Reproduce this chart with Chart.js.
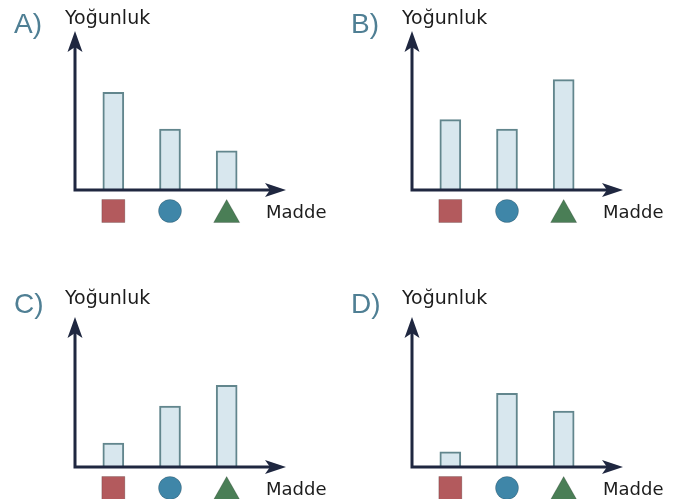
<!DOCTYPE html>
<html>
<head>
<meta charset="utf-8">
<script src="https://cdn.jsdelivr.net/npm/chart.js@4"></script>
<style>
  html, body { margin: 0; padding: 0; background: #fff; overflow: hidden; }
  body { width: 684px; height: 499px; position: relative; }
  canvas { position: absolute; }
</style>
</head>
<body>
<canvas id="panelA" width="342" height="240" style="left:0px;top:0px"></canvas>
<canvas id="panelB" width="342" height="240" style="left:337px;top:0px"></canvas>
<canvas id="panelC" width="342" height="222" style="left:0px;top:277px"></canvas>
<canvas id="panelD" width="342" height="222" style="left:337px;top:277px"></canvas>
<script>
// categories are the three substances, shown as shapes under the x axis
const categories = ['kare', 'daire', 'üçgen'];
const markerShapes = ['rect', 'circle', 'triangle'];
const markerColors = ['#b35a5d', '#3f86a8', '#4a7e56'];

const panelLetters = ['A)', 'B)', 'C)', 'D)'];
const valuesA = [6.1, 3.8, 2.45];
const valuesB = [4.4, 3.8, 6.9];
const valuesC = [1.5, 3.8, 5.1];
const valuesD = [0.95, 4.6, 3.5];

const yTitle = 'Yoğunluk';
const xTitle = 'Madde';

const navy = '#1f2740';

const axisArrows = {
    id: 'axisArrows',
    afterDatasetsDraw(chart, args, opts) {
        const ctx = chart.ctx;
        const a = chart.chartArea;
        const x = chart.scales.x;
        const ox = a.left - 10, oy = a.bottom;
        const tipY = opts.tipY, tipX = a.right + 31;

        ctx.save();
        ctx.strokeStyle = navy;
        ctx.fillStyle = navy;
        ctx.lineWidth = 3;
        ctx.beginPath();
        ctx.moveTo(ox, tipY + 12);
        ctx.lineTo(ox, oy);
        ctx.lineTo(tipX - 12, oy);
        ctx.stroke();

        // arrow heads
        ctx.beginPath();
        ctx.moveTo(ox, tipY);
        ctx.lineTo(ox + 7.5, tipY + 21);
        ctx.lineTo(ox, tipY + 16);
        ctx.lineTo(ox - 7.5, tipY + 21);
        ctx.closePath();
        ctx.fill();

        ctx.beginPath();
        ctx.moveTo(tipX, oy);
        ctx.lineTo(tipX - 21, oy - 7);
        ctx.lineTo(tipX - 16, oy);
        ctx.lineTo(tipX - 21, oy + 7);
        ctx.closePath();
        ctx.fill();

        // substance shapes under each bar
        categories.forEach((c, i) => {
            const px = x.getPixelForValue(i);
            const py = oy + 21;
            ctx.fillStyle = markerColors[i];
            ctx.strokeStyle = 'rgba(0,0,0,0.18)';
            ctx.lineWidth = 1;
            ctx.beginPath();
            if (markerShapes[i] === 'rect') {
                ctx.rect(px - 11.5, py - 11.5, 23, 23);
            } else if (markerShapes[i] === 'circle') {
                ctx.arc(px, py, 11.5, 0, Math.PI * 2);
            } else {
                ctx.moveTo(px, py - 11.5);
                ctx.lineTo(px + 13, py + 11.5);
                ctx.lineTo(px - 13, py + 11.5);
                ctx.closePath();
            }
            ctx.fill();
            ctx.stroke();
        });

        ctx.fillStyle = '#1c1c1c';
        ctx.textBaseline = 'alphabetic';
        ctx.font = '18px "DejaVu Sans", sans-serif';
        ctx.fillText(xTitle, a.right + 11, oy + 28);
        ctx.font = '19px "DejaVu Sans", sans-serif';
        ctx.fillText(yTitle, ox - 10, opts.labelY);

        ctx.fillStyle = '#4f7f94';
        ctx.font = '28px "Liberation Sans", Arial, sans-serif';
        ctx.fillText(opts.letter, 14, opts.labelY + 9);
        ctx.restore();
    }
};

function makePanel(id, letter, values, tipY, labelY, bottomPad) {
    new Chart(document.getElementById(id), {
        type: 'bar',
        data: {
            labels: categories,
            datasets: [{
                data: values,
                backgroundColor: '#d8e7ee',
                borderColor: '#62868d',
                borderWidth: 2,
                barThickness: 21
            }]
        },
        options: {
            responsive: false,
            animation: false,
            events: [],
            layout: { padding: { left: 85, right: 87, top: 30, bottom: bottomPad } },
            scales: {
                x: { display: false },
                y: { display: false, min: 0, max: 10 }
            },
            plugins: {
                legend: { display: false },
                tooltip: { enabled: false },
                axisArrows: { letter: letter, tipY: tipY, labelY: labelY }
            }
        },
        plugins: [axisArrows]
    });
}

// canvas heights decide the baseline: 240-50 and 222-32 both give 190
makePanel('panelA', panelLetters[0], valuesA, 31, 24, 50);
makePanel('panelB', panelLetters[1], valuesB, 31, 24, 50);
makePanel('panelC', panelLetters[2], valuesC, 40, 27, 32);
makePanel('panelD', panelLetters[3], valuesD, 40, 27, 32);
</script>
</body>
</html>
